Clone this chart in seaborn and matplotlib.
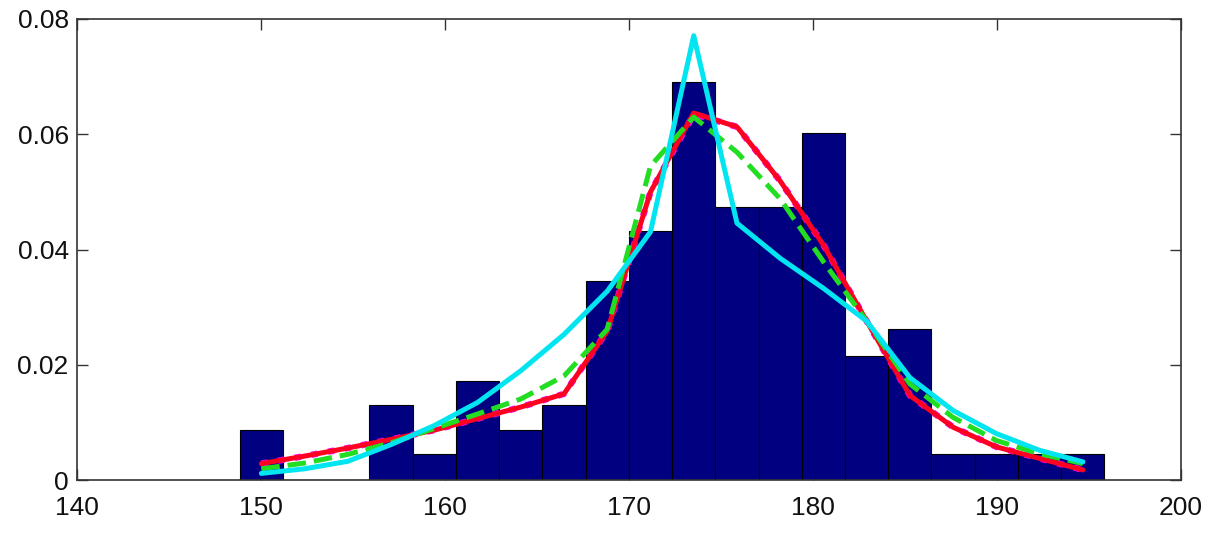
import matplotlib
matplotlib.use("Agg")
import matplotlib.pyplot as plt
import seaborn as sns

# ---- data ----
bin_edges = [148.84, 151.19, 153.54, 155.89, 158.24, 160.59, 162.94, 165.29,
             167.64, 169.99, 172.34, 174.69, 177.04, 179.39, 181.74, 184.09,
             186.44, 188.79, 191.14, 193.49, 195.84]
bin_centers = [150.02, 152.37, 154.72, 157.07, 159.42, 161.77, 164.12, 166.47,
               168.82, 171.17, 173.52, 175.87, 178.22, 180.57, 182.92, 185.27,
               187.62, 189.97, 192.32, 194.67]
bar_heights = [0.0088, 0.0, 0.0, 0.0130, 0.0046, 0.0173, 0.0088, 0.0130,
               0.0346, 0.0432, 0.0690, 0.0474, 0.0474, 0.0603, 0.0216, 0.0262,
               0.0046, 0.0046, 0.0046, 0.0046]

red_fit = [0.0029, 0.0042, 0.0056, 0.0071, 0.0087, 0.0107, 0.0127, 0.0150,
           0.0259, 0.0500, 0.0637, 0.0613, 0.0519, 0.0408, 0.0276, 0.0147,
           0.0092, 0.0058, 0.0038, 0.0018]
magenta_fit = [0.0029, 0.0042, 0.0056, 0.0071, 0.0087, 0.0107, 0.0127, 0.0150,
               0.0259, 0.0500, 0.0635, 0.0613, 0.0519, 0.0408, 0.0276, 0.0147,
               0.0092, 0.0058, 0.0038, 0.0018]
green_fit = [0.0020, 0.0030, 0.0045, 0.0065, 0.0090, 0.0115, 0.0141, 0.0181,
             0.0262, 0.0545, 0.0630, 0.0569, 0.0488, 0.0379, 0.0276, 0.0167,
             0.0109, 0.0069, 0.0046, 0.0029]
cyan_fit = [0.0012, 0.0020, 0.0033, 0.0062, 0.0095, 0.0135, 0.0190, 0.0253,
            0.0328, 0.0431, 0.0771, 0.0446, 0.0385, 0.0333, 0.0276, 0.0178,
            0.0121, 0.0081, 0.0052, 0.0032]

x_ticks = [140, 150, 160, 170, 180, 190, 200]
y_ticks = [0, 0.02, 0.04, 0.06, 0.08]
y_tick_labels = ["0", "0.02", "0.04", "0.06", "0.08"]

# ---- style ----
sns.set_style("white")
plt.rcParams["font.family"] = ["Liberation Sans", "DejaVu Sans"]

fig = plt.figure(figsize=(12.12, 5.35), dpi=100)
ax = fig.add_axes([0.0635, 0.1022, 0.9109, 0.8623])

sns.histplot(x=bin_centers, weights=bar_heights, bins=bin_edges, stat="count",
             color="#000080", edgecolor="black", linewidth=0.8, alpha=1.0,
             ax=ax)

sns.lineplot(x=bin_centers, y=magenta_fit, color="#ff00ff", linewidth=4.6,
             linestyle=":", ax=ax)
sns.lineplot(x=bin_centers, y=red_fit, color="#ff0022", linewidth=3.6, ax=ax)
sns.lineplot(x=bin_centers, y=green_fit, color="#22dd22", linewidth=3.6,
             linestyle="--", ax=ax)
sns.lineplot(x=bin_centers, y=cyan_fit, color="#00e5f0", linewidth=3.6, ax=ax)

ax.set_xlim(140, 200)
ax.set_ylim(0, 0.08)
ax.set_xticks(x_ticks)
ax.set_xticklabels([str(t) for t in x_ticks])
ax.set_yticks(y_ticks)
ax.set_yticklabels(y_tick_labels)
ax.set_xlabel("")
ax.set_ylabel("")

for s in ax.spines.values():
    s.set_visible(True)
    s.set_color("#333333")
    s.set_linewidth(1.2)

ax.tick_params(axis="both", which="both", direction="in", length=8,
               width=1, color="#333333", top=True, right=True,
               bottom=True, left=True, labelsize=19, labelcolor="#111111")
ax.tick_params(axis="x", pad=11)
ax.tick_params(axis="y", pad=6)

fig.savefig("out.png", dpi=100)
